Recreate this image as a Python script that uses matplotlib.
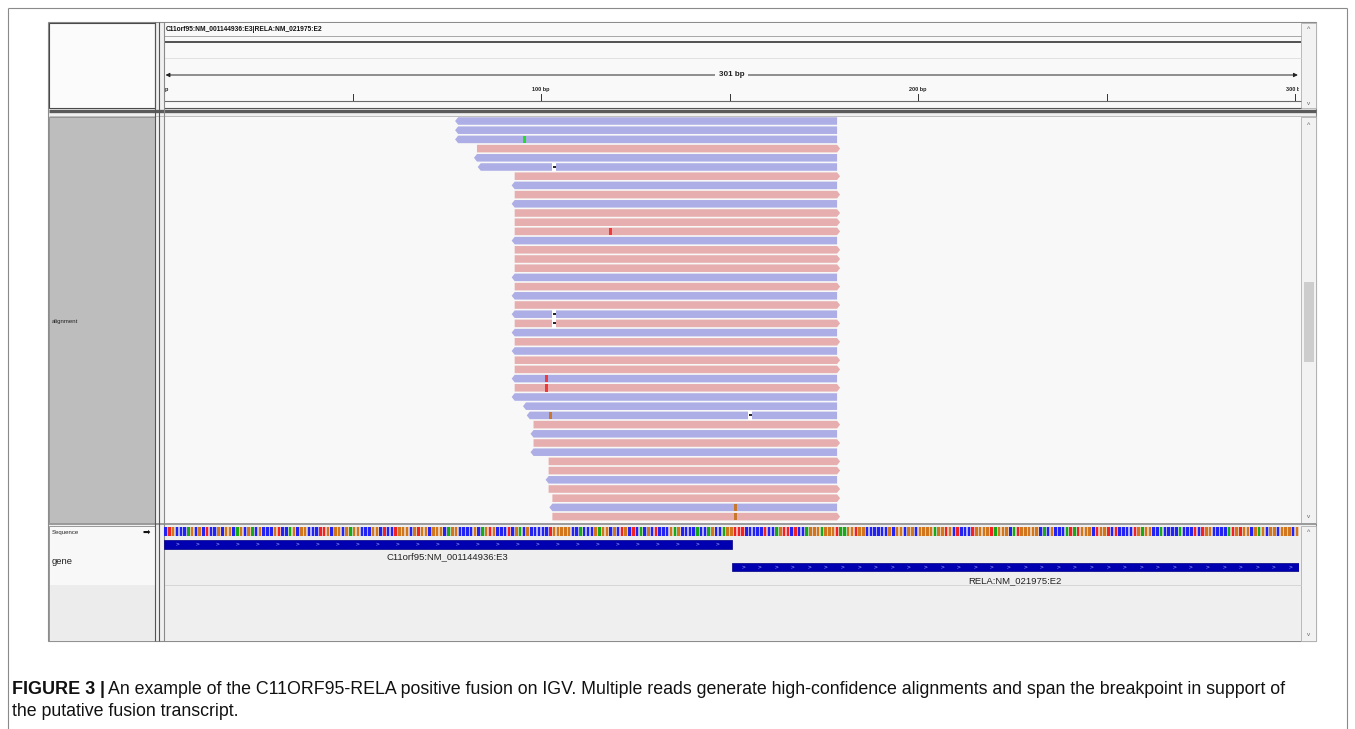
import matplotlib
matplotlib.use("Agg")
import numpy as np
import matplotlib.pyplot as plt
from matplotlib.patches import Rectangle, Polygon

plt.rcParams['font.family'] = ['Liberation Sans', 'DejaVu Sans']

W, H = 1355, 729
REGION_LEN = 301
BREAKPOINT = 150.5

# aligned reads, one per row from top to bottom
read_strand = "---+--+-+-+++-+++-+-+-+-+-++-+---+-+-++-++-+"
read_start = [78, 78, 78, 83, 83, 84] + [93] * 25 + [96, 97, 98, 98, 98, 98,
                                                      102, 102, 102, 102, 103, 103, 103]
read_end = 178.5

# mismatches inside reads (row, position, base)
mm_row = [2, 12, 28, 29, 32, 42, 43]
mm_pos = [95, 118, 101, 101, 102, 151, 151]
mm_base = ['A', 'T', 'T', 'T', 'G', 'G', 'G']

# single base deletions (row, position)
del_row = [5, 21, 22, 32]
del_pos = [103, 103, 103, 155]

# reference sequence of the fusion contig
ref_seq = ("CTGCCCAGCGCTCCGCGGCAGCGACGCCCGTCCAGCGGCCCTTGCGGCGAGGCCCGGCTC"
           "CTGGGCGTGGCGGGCAGGCCCCGCAGTGCCCTCGACGCCC"
           "CCTGGGGGCCACCCGAGGCGCTGCTCACGCTCCCGAGCCCCACCAGCCAGGTTTCCCCCT"
           "CCAGTTCTCCAGGGAGGGTAAGGTGGCCCCCCGCGGCGGC"
           "GGGGAGGTGCTCCCTGGGGTAGGGCATGGGGGCACGCCCATATGGGCTGGTCTCCCCTGA"
           "GGCCACCCCACCCTCTGGCCCCATGTGGCGAGCGGCGGGCG")

gene_names = ["C11orf95:NM_001144936:E3", "RELA:NM_021975:E2"]
gene_start = [0, BREAKPOINT]
gene_end = [BREAKPOINT, REGION_LEN]

ruler_ticks = [50, 100, 150, 200, 250, 300]
ruler_labels = [0, 100, 200, 300]

base_color = {'A': '#18a818', 'C': '#2222f2', 'G': '#d2761e', 'T': '#f02222'}
mm_color = {'A': '#22dd22', 'C': '#2020ff', 'G': '#c8782e', 'T': '#f03a3a'}
fwd_color = '#e6aeae'
rev_color = '#aeaee6'

fig = plt.figure(figsize=(W / 100, H / 100), dpi=100)
fig.patch.set_facecolor('white')


def px_axes(x0, y0, x1, y1):
    ax = fig.add_axes([x0 / W, 1 - y1 / H, (x1 - x0) / W, (y1 - y0) / H])
    ax.set_axis_off()
    ax.patch.set_alpha(0)
    return ax


bg = fig.add_axes([0, 0, 1, 1])
bg.set_xlim(0, W)
bg.set_ylim(H, 0)
bg.set_axis_off()


def box(x0, y0, x1, y1, fc='none', ec='none', lw=0.7, z=1):
    bg.add_patch(Rectangle((x0, y0), x1 - x0, y1 - y0, facecolor=fc,
                           edgecolor=ec, linewidth=lw, zorder=z))


def hline(y, x0, x1, c, lw=0.7, z=2):
    bg.plot([x0, x1], [y, y], color=c, lw=lw, solid_capstyle='butt', zorder=z)


def vline(x, y0, y1, c, lw=0.7, z=2):
    bg.plot([x, x], [y0, y1], color=c, lw=lw, solid_capstyle='butt', zorder=z)


# page frame
vline(8, 8, H, '#8a8a8a', 0.8)
hline(8, 8, 1347, '#8a8a8a', 0.8)
vline(1347, 8, H, '#8a8a8a', 0.8)

# IGV window
box(48, 22, 1316, 641, fc='#f0f0f0', ec='#8c8c8c', lw=0.8)

# header panel
box(49, 23, 155, 108, fc='#fbfbfb', ec='#4a4a4a', lw=0.8)
box(164, 23, 1301, 108, fc='#f9f9f9')
hline(36, 164, 1301, '#9a9a9a', 0.6)
hline(41.5, 164, 1301, '#444444', 1.3)
hline(58, 164, 1301, '#dddddd', 0.6)
hline(101, 164, 1301, '#6a6a6a', 0.8)
hline(107.5, 164, 1301, '#555555', 0.8)
box(1301, 23, 1316, 108, fc='#f2f2f2', ec='#b0b0b0', lw=0.6)
hline(110.5, 49, 1316, '#5a5a5a', 2.4)
hline(115.5, 49, 1316, '#b4b4b4', 0.6)
bg.text(166, 29, "C11orf95:NM_001144936:E3|RELA:NM_021975:E2", fontsize=4.8,
        fontweight='bold', va='center', ha='left', color='#111111')

# alignment panel
box(49, 117, 155, 523, fc='#bdbdbd', ec='#8a8a8a', lw=0.6)
box(164, 117, 1301, 523, fc='#f8f8f8')
box(1301, 117, 1316, 523, fc='#f2f2f2', ec='#b0b0b0', lw=0.6)
box(1303.5, 282, 1313.5, 362, fc='#cdcdcd')
bg.text(52, 321, "alignment", fontsize=4.3, va='center', color='#222222')
hline(524, 49, 1316, '#9a9a9a', 1.4)

# sequence / gene panel
box(49, 526, 155, 641, fc='#ececec', ec='#8a8a8a', lw=0.6)
box(49.5, 526.5, 154.5, 585, fc='#f8f8f8')
box(164, 526, 1301, 641, fc='#efefef')
hline(585, 164, 1301, '#d2d2d2', 0.6)
box(1301, 526, 1316, 641, fc='#f2f2f2', ec='#b0b0b0', lw=0.6)
bg.text(52, 532.5, "Sequence", fontsize=4.3, va='center', color='#222222')
bg.text(146, 532, "\u27a1", fontsize=6.5, va='center', ha='center',
        color='#111111', family=['DejaVu Sans'])
bg.text(52, 561, "gene", fontsize=6.8, va='center', color='#222222')

# divider columns between name and data panels
for x, c in [(155, '#555555'), (158.5, '#555555'), (164, '#8a8a8a')]:
    vline(x, 22, 641, c, 0.8, z=3)

# scrollbar arrows
for y in [29, 125, 533]:
    bg.text(1308.5, y, "^", fontsize=5, ha='center', va='center', color='#666666')
for y in [103, 517, 634]:
    bg.text(1308.5, y, "v", fontsize=4.5, ha='center', va='center', color='#666666')

# ruler
ruler = px_axes(164, 60, 1299, 101)
ruler.set_xlim(0, REGION_LEN)
ruler.set_ylim(41, 0)
ruler.annotate("", xy=(REGION_LEN - 0.3, 15), xytext=(0.4, 15),
               arrowprops=dict(arrowstyle='<|-|>', color='#222222', lw=0.7,
                               mutation_scale=6, shrinkA=0, shrinkB=0))
ruler.text(REGION_LEN / 2, 15, f"{REGION_LEN} bp", fontsize=5.8, fontweight='bold',
           ha='center', va='center', color='#222222',
           bbox=dict(fc='#f9f9f9', ec='none', pad=2.5))
for t in ruler_ticks:
    ruler.plot([t, t], [34, 40.5], color='#333333', lw=0.7)
for t in ruler_labels:
    ruler.text(t, 29, f"{t} bp", fontsize=4.0, fontweight='bold',
               ha='right' if t == 0 else 'center', va='center', color='#222222',
               clip_on=True, transform=ruler.transData)
ruler.text(0.3, 29, "p", fontsize=4.0, fontweight='bold', ha='left', va='center',
           color='#222222')

# reads
reads = px_axes(164, 116.4, 1299, 521.2)
reads.set_xlim(0, REGION_LEN)
reads.set_ylim(len(read_strand), 0)
tip = 0.8
for i, (strand, s) in enumerate(zip(read_strand, read_start)):
    top, bot, mid = i + 0.09, i + 0.91, i + 0.5
    if strand == '+':
        pts = [(s, top), (read_end, top), (read_end + tip, mid), (read_end, bot), (s, bot)]
        col = fwd_color
    else:
        pts = [(s, top), (read_end, top), (read_end, bot), (s, bot), (s - tip, mid)]
        col = rev_color
    reads.add_patch(Polygon(pts, closed=True, facecolor=col, edgecolor='none'))

for r, p, b in zip(mm_row, mm_pos, mm_base):
    reads.add_patch(Rectangle((p + 0.1, r + 0.09), 0.8, 0.82,
                              facecolor=mm_color[b], edgecolor='none', zorder=3))

for r, p in zip(del_row, del_pos):
    reads.add_patch(Rectangle((p, r + 0.02), 1, 0.96, facecolor='white',
                              edgecolor='none', zorder=3))
    reads.plot([p + 0.15, p + 0.85], [r + 0.5, r + 0.5], color='#111111', lw=1.3,
               solid_capstyle='butt', zorder=4)

# sequence and gene tracks
track = px_axes(164, 525, 1299, 641)
track.set_xlim(0, REGION_LEN)
track.set_ylim(116, 0)
for i, b in enumerate(ref_seq):
    c = base_color[b]
    track.add_patch(Rectangle((i, 2), 1, 8.5, facecolor=c, alpha=0.3, edgecolor='none'))
    track.add_patch(Rectangle((i + 0.12, 2), 0.66, 8.5, facecolor=c, edgecolor='none'))

gene_y = [15, 37.5]
label_y = [32, 55.5]
chev_step = [5.3, 4.4]
for name, gs, ge, gy, ly, step in zip(gene_names, gene_start, gene_end, gene_y,
                                      label_y, chev_step):
    track.add_patch(Rectangle((gs, gy), ge - gs, 8.5, facecolor='#0000b0',
                              edgecolor='#000080', linewidth=0.5))
    for cx in np.arange(gs + step * 0.7, ge - 1, step):
        track.text(cx, gy + 4.4, ">", fontsize=4.6, ha='center', va='center',
                   color='#b4b4ff')
    track.text((gs + ge) / 2, ly, name, fontsize=6.8, ha='center', va='center',
               color='#222222')

# caption
bg.text(12, 690, "FIGURE 3", fontsize=13, fontweight='bold', va='center',
        color='#111111')
bg.text(100, 690, "|", fontsize=13, fontweight='bold', va='center',
        color='#111111')
bg.text(108, 690, "An example of the C11ORF95-RELA positive fusion on IGV. Multiple reads "
        "generate high-confidence alignments and span the breakpoint in support of",
        fontsize=12.8, va='center', color='#111111')
bg.text(12, 712, "the putative fusion transcript.", fontsize=12.8, va='center',
        color='#111111')

fig.savefig("out.png", dpi=100)
